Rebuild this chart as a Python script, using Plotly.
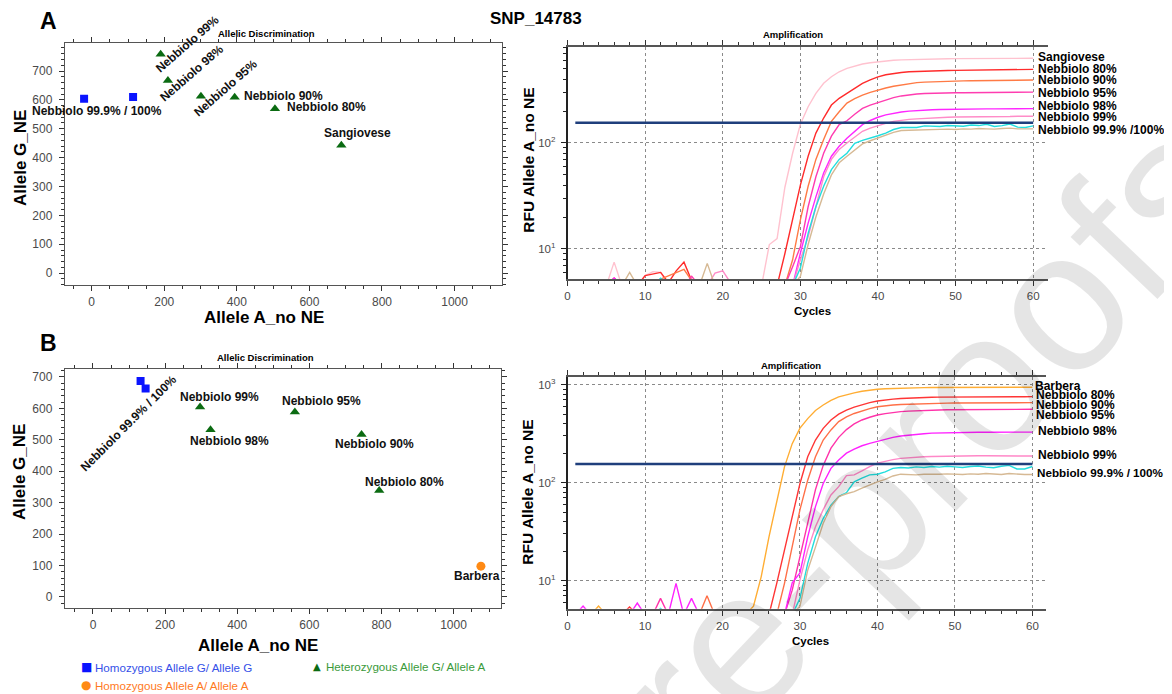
import plotly.graph_objects as go

# ---------------- data ----------------
cycles = list(range(1, 61))

# Panel A amplification (RFU, cycle 1..60)
A_sangiovese = [4.5,4.5,4.5,4.5,4.5,7.5,4.5,4.5,4.5,5.6, 6.1,6.0,4.5,4.5,4.5,4.5,4.5,4.5,4.5,4.5,
                4.5,4.5,4.5,4.5,4.5,11,12.5,38,80,150, 220,294,366,422,470,507,535,556,572,585,
                595,603,609,613,616,618,620,622,624,625, 626,627,627,628,628,629,629,630,630,630]
A_n80 = [4.5,4.5,4.5,4.5,4.5,5.3,4.5,4.5,4.5,5.6, 5.8,6.0,4.8,6.2,7.5,5.0,4.5,4.5,4.5,4.5,
         4.5,4.5,4.5,4.5,4.5,4.5,4.5,9,19,40, 75,124,172,228,264,294,332,366,395,421,
         440,454,463,470,474,477,479,481,483,485, 486,487,488,489,490,491,492,493,494,495]
A_n90 = [4.5,4.5,4.5,4.5,4.5,4.5,4.5,4.5,4.5,4.5, 4.5,5.2,5.6,6.0,6.4,5.0,4.5,4.5,4.5,4.5,
         4.5,4.5,4.5,4.5,4.5,4.5,4.5,4.5,7.9,18.8, 39,70,108,160,197,238,262,283,300,316,
         330,343,354,363,371,375,378,381,383,385, 386,387,388,389,390,390,391,391,392,393]
A_n95 = [4.5,4.5,4.5,4.5,4.5,5.3,4.5,4.5,4.5,4.5, 4.5,4.5,4.5,4.5,4.5,5.5,4.5,4.5,4.5,4.5,
         4.5,4.5,4.5,4.5,4.5,4.5,4.5,4.5,6.8,10.5, 25,48,80,116,149,162,187,212,228,242,
         256,268,278,285,290,293,295,296,297,298, 298,299,299,300,300,300,301,301,301,302]
A_n98 = [4.5,4.5,4.5,4.5,4.5,5.3,4.5,4.5,4.5,4.5, 4.5,4.5,4.5,4.5,4.5,4.5,4.5,4.5,4.5,4.5,
         4.5,4.5,4.5,4.5,4.5,4.5,4.5,4.5,4.5,9.1, 17.5,31,52,75,93,111,129,149,163,175,
         184,191,196,200,203,205,206,207,208,209, 209,209,210,210,210,210,210,211,211,211]
A_n99 = [4.5,4.5,4.5,4.5,4.5,4.5,4.5,4.5,4.5,4.5, 4.5,4.5,4.5,4.5,4.5,4.5,4.5,4.5,5.9,6.2,
         4.8,4.5,4.5,4.5,4.5,4.5,4.5,4.5,4.5,7.9, 13,25,48,70,87,100,114,129,138,146,
         153,160,164,167,169,171,173,174,175,176, 176,177,177,177,178,178,178,179,179,179]
A_n999 = [4.5,4.5,4.5,4.5,4.5,4.5,4.5,4.5,4.5,4.5, 4.5,5.3,4.5,4.5,4.5,4.5,4.5,4.5,4.5,4.5,
          4.5,4.5,4.5,4.5,4.5,4.5,4.5,4.5,4.5,6.6, 14,25,39,56,70,80,99,106,111,117,
          124,134,140,141,140,145,144,143,146,145, 144,148,146,150,143,146,151,141,140,145]
A_n100 = [4.5,4.5,4.5,4.5,4.5,4.5,4.5,6.0,4.5,4.5, 4.5,4.5,4.5,4.5,4.5,4.5,4.5,7.3,4.5,4.5,
          4.5,4.5,4.5,4.5,4.5,4.5,4.5,4.5,4.5,5.5, 11,20,33,50,65,75,85,98,105,112,
          118,126,131,132,132,134,133,134,135,134, 136,135,137,136,135,137,138,136,135,136]

# Panel B amplification
B_barbera = [4.5,4.5,4.5,5.5,4.5,4.5,4.5,4.5,4.5,4.5, 4.5,4.5,4.5,4.5,4.5,4.5,4.5,4.5,4.5,4.5,
             4.5,4.5,4.5,5.5,11,28,65,145,250,360, 450,545,620,690,750,790,825,855,878,897,
             907,915,921,926,930,933,935,937,938,939, 940,940,940,941,941,941,941,942,942,942]
B_n80 = [4.5,4.5,4.5,4.5,4.5,4.5,4.5,5.4,4.5,4.5, 4.5,4.5,4.5,4.5,4.5,4.5,4.5,4.5,4.5,4.5,
         4.5,4.5,4.5,4.5,4.5,4.5,9.4,20.6,45,98, 184,272,358,436,500,550,590,625,655,680,
         698,712,722,730,736,740,743,745,747,748, 749,750,750,751,751,752,752,753,753,754]
B_n90 = [4.5,4.5,4.5,4.5,4.5,4.5,4.5,4.5,4.5,4.5, 4.5,4.5,4.5,4.5,4.5,4.5,4.5,7.0,4.5,4.5,
         4.5,4.5,4.5,4.5,4.5,4.5,4.5,9.4,22,53, 106,184,272,345,420,470,508,540,570,595,
         610,620,628,633,637,641,644,646,648,650, 651,652,652,653,653,654,654,655,655,655]
B_n95 = [4.5,4.5,4.5,4.5,4.5,4.5,4.5,4.5,4.5,4.5, 4.5,6.6,4.5,4.5,4.5,4.5,4.5,4.5,4.5,4.5,
         4.5,4.5,4.5,4.5,4.5,4.5,4.5,4.5,8,17.6, 38.5,85,150,225,290,348,397,436,465,490,
         506,520,530,537,543,547,550,552,554,555, 556,557,557,558,558,559,559,560,560,561]
B_n98 = [4.5,5.5,4.5,4.5,4.5,4.5,4.5,4.5,5.9,4.5, 4.5,4.5,4.5,9.4,4.5,6.6,4.5,4.5,4.5,4.5,
         4.5,4.5,4.5,4.5,4.5,4.5,4.5,4.5,9.5,12, 28,57,98,140,170,200,220,238,252,265,
         279,290,299,306,312,316,320,322,324,325, 326,326,327,327,327,328,328,328,328,328]
B_n99 = [4.5,4.5,4.5,4.5,4.5,4.5,4.5,4.5,4.5,4.5, 4.5,4.5,4.5,4.5,4.5,4.5,4.5,4.5,4.5,4.5,
         4.5,4.5,4.5,4.5,4.5,4.5,4.5,4.5,4.5,10.2, 20.6,35.5,53,75,91,118,120,132,146,158,
         166,172,177,180,182,184,185,186,187,188, 188,188,188,188,188,188,188,188,187,187]
B_n999 = [4.5,4.5,4.5,4.5,4.5,4.5,4.5,4.5,4.5,4.5, 4.5,5.2,4.5,4.5,4.5,4.5,4.5,4.5,4.5,4.5,
          4.5,4.5,4.5,4.5,4.5,4.5,4.5,4.5,4.5,6.6, 15,28,43,59,72,79,102,111,120,122,
          129,140,143,141,145,143,146,144,147,145, 143,146,148,144,142,147,150,138,138,146]
B_n100 = [4.5,4.5,4.5,4.5,4.5,4.5,4.5,4.5,4.5,4.5, 4.5,4.5,4.5,4.5,4.5,4.5,4.5,4.5,4.5,4.5,
          4.5,4.5,4.5,4.5,4.5,4.5,4.5,4.5,4.5,5.5, 12.8,22,38.5,57,72,77,81,88,95,102,
          108,117,122,121,120,122,121,122,123,122, 121,123,122,124,122,121,124,122,121,121]

threshold_cycles = [1, 60]
threshold_rfu = [155, 155]

A_curve_names = ["Sangiovese", "Nebbiolo 80%", "Nebbiolo 90%", "Nebbiolo 95%",
                 "Nebbiolo 98%", "Nebbiolo 99%", "Nebbiolo 99.9%", "Nebbiolo 100%"]
B_curve_names = ["Barbera", "Nebbiolo 80%", "Nebbiolo 90%", "Nebbiolo 95%",
                 "Nebbiolo 98%", "Nebbiolo 99%", "Nebbiolo 99.9%", "Nebbiolo 100%"]
A_curve_labels = ["Sangiovese", "Nebbiolo 80%", "Nebbiolo 90%", "Nebbiolo 95%",
                  "Nebbiolo 98%", "Nebbiolo 99%", "Nebbiolo 99.9% /100%"]
B_curve_labels = ["Barbera", "Nebbiolo 80%", "Nebbiolo 90%", "Nebbiolo 95%",
                  "Nebbiolo 98%", "Nebbiolo 99%", "Nebbiolo 99.9% / 100%"]

# Allelic discrimination (x = Allele A_no NE, y = Allele G_NE)
A_homG_x = [-21, 114]
A_homG_y = [604, 610]
A_het_names = ["Nebbiolo 99%", "Nebbiolo 98%", "Nebbiolo 95%", "Nebbiolo 90%", "Nebbiolo 80%", "Sangiovese"]
A_het_x = [190, 210, 301, 394, 505, 688]
A_het_y = [758, 667, 613, 609, 569, 443]

B_homG_x = [132, 146]
B_homG_y = [687, 663]
B_het_names = ["Nebbiolo 99%", "Nebbiolo 98%", "Nebbiolo 95%", "Nebbiolo 90%", "Nebbiolo 80%"]
B_het_x = [297, 326, 560, 745, 794]
B_het_y = [604, 532, 588, 517, 339]
B_homA_names = ["Barbera"]
B_homA_x = [1076]
B_homA_y = [98]

legend_labels = ["Homozygous Allele G/ Allele G", "Heterozygous Allele G/ Allele A",
                 "Homozygous Allele A/ Allele A"]

# ---------------- styling ----------------
FONT = "Liberation Sans, Arial, Helvetica, sans-serif"
OFF = 8                      # page body margin of the html page
W, H = 1172 - OFF, 694 - OFF
A_colors = ["#ffc2cf", "#ff2b2b", "#ff7a45", "#ff3cb0", "#ff26ff", "#ff8cc8", "#22dede", "#d6b994"]
B_colors = ["#ffad33", "#ff3535", "#ff7048", "#ff33aa", "#ff22ff", "#ff88c8", "#22dede", "#d6b994"]

def px(x):
    return (x - OFF) / W

def py(y):
    return 1 - (y - OFF) / H

fig = go.Figure()

A_curves = [A_sangiovese, A_n80, A_n90, A_n95, A_n98, A_n99, A_n999, A_n100]
B_curves = [B_barbera, B_n80, B_n90, B_n95, B_n98, B_n99, B_n999, B_n100]

for name, vals, col in zip(A_curve_names, A_curves, A_colors):
    fig.add_trace(go.Scatter(x=cycles, y=vals, mode="lines", name=name,
                             line=dict(color=col, width=1.4), xaxis="x2", yaxis="y2",
                             showlegend=False))
fig.add_trace(go.Scatter(x=threshold_cycles, y=threshold_rfu, mode="lines",
                         line=dict(color="#1f3f7c", width=2.6), xaxis="x2", yaxis="y2",
                         showlegend=False))

for name, vals, col in zip(B_curve_names, B_curves, B_colors):
    fig.add_trace(go.Scatter(x=cycles, y=vals, mode="lines", name=name,
                             line=dict(color=col, width=1.4), xaxis="x4", yaxis="y4",
                             showlegend=False))
fig.add_trace(go.Scatter(x=threshold_cycles, y=threshold_rfu, mode="lines",
                         line=dict(color="#1f3f7c", width=2.6), xaxis="x4", yaxis="y4",
                         showlegend=False))

# scatter panels
fig.add_trace(go.Scatter(x=A_homG_x, y=A_homG_y, mode="markers", xaxis="x", yaxis="y",
                         marker=dict(symbol="square", size=8, color="#0a14ff"), showlegend=False))
fig.add_trace(go.Scatter(x=A_het_x, y=A_het_y, mode="markers", xaxis="x", yaxis="y",
                         marker=dict(symbol="triangle-up", size=9, color="#0b6b12"), showlegend=False))
fig.add_trace(go.Scatter(x=B_homG_x, y=B_homG_y, mode="markers", xaxis="x3", yaxis="y3",
                         marker=dict(symbol="square", size=8, color="#0a14ff"), showlegend=False))
fig.add_trace(go.Scatter(x=B_het_x, y=B_het_y, mode="markers", xaxis="x3", yaxis="y3",
                         marker=dict(symbol="triangle-up", size=9, color="#0b6b12"), showlegend=False))
fig.add_trace(go.Scatter(x=B_homA_x, y=B_homA_y, mode="markers", xaxis="x3", yaxis="y3",
                         marker=dict(symbol="circle", size=9, color="#ff8a14"), showlegend=False))

tickfont = dict(family=FONT, size=12, color="#4a4a4a")

def scatter_x(domain, rng, anchor):
    return dict(domain=domain, range=rng, anchor=anchor, dtick=200, tick0=0,
                ticks="outside", ticklen=5, tickcolor="#333", showline=True, linecolor="#555",
                linewidth=1.2, mirror="ticks", showgrid=False, zeroline=False, tickfont=tickfont,
                minor=dict(dtick=50, ticklen=3, ticks="outside", tickcolor="#333"))

def scatter_y(domain, rng, anchor):
    return dict(domain=domain, range=rng, anchor=anchor, dtick=100, tick0=0,
                ticks="outside", ticklen=5, tickcolor="#333", showline=True, linecolor="#555",
                linewidth=1.2, mirror="ticks", showgrid=False, zeroline=False, tickfont=tickfont,
                ticklabelstandoff=4,
                minor=dict(dtick=20, ticklen=3, ticks="outside", tickcolor="#333"))

def amp_x(domain, rng, anchor):
    return dict(domain=domain, range=rng, anchor=anchor, dtick=10, tick0=0,
                ticks="outside", ticklen=5, tickcolor="#333", showline=True, linecolor="#555",
                linewidth=2, mirror="ticks", showgrid=True, gridcolor="#8a8a8a", griddash="dot",
                gridwidth=1, zeroline=False, tickfont=dict(family=FONT, size=11.5, color="#4a4a4a"),
                minor=dict(dtick=2, ticklen=3, ticks="outside", tickcolor="#333"))

minor_log = [6, 7, 8, 9, 20, 30, 40, 50, 60, 70, 80, 90, 200, 300, 400, 500, 600, 700, 800, 900]

def amp_y(domain, rng, anchor):
    return dict(domain=domain, range=rng, anchor=anchor, type="log",
                tickmode="array", tickvals=[10, 100, 1000],
                ticktext=["10<sup>1</sup>", "10<sup>2</sup>", "10<sup>3</sup>"],
                ticks="outside", ticklen=5, tickcolor="#222", showline=True, linecolor="#222",
                linewidth=1.5, mirror=False, showgrid=True, gridcolor="#8a8a8a", griddash="dot",
                gridwidth=1, zeroline=False, tickfont=dict(family=FONT, size=11.5, color="#4a4a4a"),
                ticklabelstandoff=3,
                minor=dict(tickmode="array", tickvals=minor_log, ticklen=3, ticks="outside",
                           tickcolor="#222", showgrid=False))

fig.update_layout(
    width=W, height=H, margin=dict(l=0, r=0, t=0, b=0),
    paper_bgcolor="white", plot_bgcolor="white", showlegend=False,
    xaxis=scatter_x([px(62), px(500)], [-74, 1130], "y"),
    yaxis=scatter_y([py(285), py(43)], [-41, 797], "x"),
    xaxis2=amp_x([px(566), px(1048)], [0, 61.95], "y2"),
    yaxis2=amp_y([py(279), py(47)], [0.716, 2.906], "x2"),
    xaxis3=scatter_x([px(62), px(499)], [-78, 1131], "y3"),
    yaxis3=scatter_y([py(608), py(369)], [-35, 725], "x3"),
    xaxis4=amp_x([px(566), px(1046)], [0, 61.8], "y4"),
    yaxis4=amp_y([py(608.7), py(376.7)], [0.714, 3.081], "x4"),
)

ann = []

def paper_text(x, y, text, size, color="black", angle=0, xanchor="center", bold=True):
    ann.append(dict(xref="paper", yref="paper", x=px(x), y=py(y), text=(f"<b>{text}</b>" if bold else text),
                    showarrow=False, xanchor=xanchor, yanchor="middle", textangle=angle,
                    font=dict(family=FONT, size=size, color=color)))

# headings
paper_text(46, 21, "A", 23)
paper_text(46, 343, "B", 23)
paper_text(534, 19, "SNP_14783", 17)
paper_text(264, 33, "Allelic Discrimination", 9.5)
paper_text(263, 357, "Allelic Discrimination", 9.5)
paper_text(792, 35, "Amplification", 9.5)
paper_text(790, 365, "Amplification", 9.5)
# axis titles
paper_text(262, 317, "Allele A_no NE", 17)
paper_text(256, 645, "Allele A_no NE", 17)
paper_text(17, 158, "Allele G_NE", 17, angle=-90)
paper_text(17, 472, "Allele G_NE", 17, angle=-90)
paper_text(526, 160, "RFU Allele A_no NE", 15.5, angle=-90)
paper_text(525, 492, "RFU Allele A_no NE", 15.5, angle=-90)
paper_text(812, 311, "Cycles", 11.5)
paper_text(810, 641, "Cycles", 11.5)

# amplification curve labels
A_label_logy = [2.811, 2.698, 2.594, 2.472, 2.349, 2.245, 2.123]
for lab, ly in zip(A_curve_labels, A_label_logy):
    ann.append(dict(xref="paper", yref="y2", x=px(1036), y=ly, text=f"<b>{lab}</b>", showarrow=False,
                    xanchor="left", yanchor="middle", font=dict(family=FONT, size=12, color="black")))
B_label_logy = [2.99, 2.895, 2.793, 2.694, 2.528, 2.286, 2.102]
B_label_x = [1033, 1034, 1034, 1034, 1036, 1036, 1035]
B_label_size = [12, 12, 12, 12, 12, 12, 11.7]
for lab, ly, lx, ls in zip(B_curve_labels, B_label_logy, B_label_x, B_label_size):
    ann.append(dict(xref="paper", yref="y4", x=px(lx), y=ly, text=f"<b>{lab}</b>", showarrow=False,
                    xanchor="left", yanchor="middle", font=dict(family=FONT, size=ls, color="black")))

def data_text(xr, yr, x, y, text, angle=0, xanchor="center"):
    ann.append(dict(xref=xr, yref=yr, x=x, y=y, text=f"<b>{text}</b>", showarrow=False,
                    xanchor=xanchor, yanchor="middle", textangle=angle,
                    font=dict(family=FONT, size=12, color="#111")))

# scatter labels panel A
data_text("x", "y", 15, 561, "Nebbiolo 99.9% / 100%")
data_text("x", "y", 264, 793, "Nebbiolo 99%", angle=-41)
data_text("x", "y", 276, 694, "Nebbiolo 98%", angle=-41)
data_text("x", "y", 369, 642, "Nebbiolo 95%", angle=-41)
data_text("x", "y", 413, 613, "Nebbiolo 90%", xanchor="left")
data_text("x", "y", 532, 574, "Nebbiolo 80%", xanchor="left")
data_text("x", "y", 732, 484, "Sangiovese")
# scatter labels panel B
data_text("x3", "y3", 100, 552, "Nebbiolo 99.9% / 100%", angle=-45)
data_text("x3", "y3", 352, 636, "Nebbiolo 99%")
data_text("x3", "y3", 378, 496, "Nebbiolo 98%")
data_text("x3", "y3", 633, 623, "Nebbiolo 95%")
data_text("x3", "y3", 782, 485, "Nebbiolo 90%")
data_text("x3", "y3", 865, 366, "Nebbiolo 80%")
data_text("x3", "y3", 1065, 67, "Barbera")

# legend (symbol + text)
def legend_item(sx, tx, y, sym, sym_col, sym_size, text, text_col):
    ann.append(dict(xref="paper", yref="paper", x=px(sx), y=py(y), showarrow=False,
                    xanchor="center", yanchor="middle", text=sym,
                    font=dict(family="DejaVu Sans, sans-serif", size=sym_size, color=sym_col)))
    ann.append(dict(xref="paper", yref="paper", x=px(tx), y=py(y), showarrow=False,
                    xanchor="left", yanchor="middle", text=text,
                    font=dict(family=FONT, size=11.6, color=text_col)))

legend_item(84, 90, 667, "■", "#0a14ff", 12, legend_labels[0], "#3550e8")
legend_item(315, 322, 666, "▲", "#0b6b12", 10, legend_labels[1], "#3a9a3a")
legend_item(83, 90, 685, "●", "#ff8a14", 12, legend_labels[2], "#ff7a1e")

# watermark
ann.append(dict(xref="paper", yref="paper", x=px(880), y=py(490), text="Pre-proofs", showarrow=False,
                xanchor="center", yanchor="middle", textangle=-46.5,
                font=dict(family=FONT, size=200, color="rgba(0,0,0,0.10)")))

fig.update_layout(annotations=ann)

fig.write_html("out.html")
